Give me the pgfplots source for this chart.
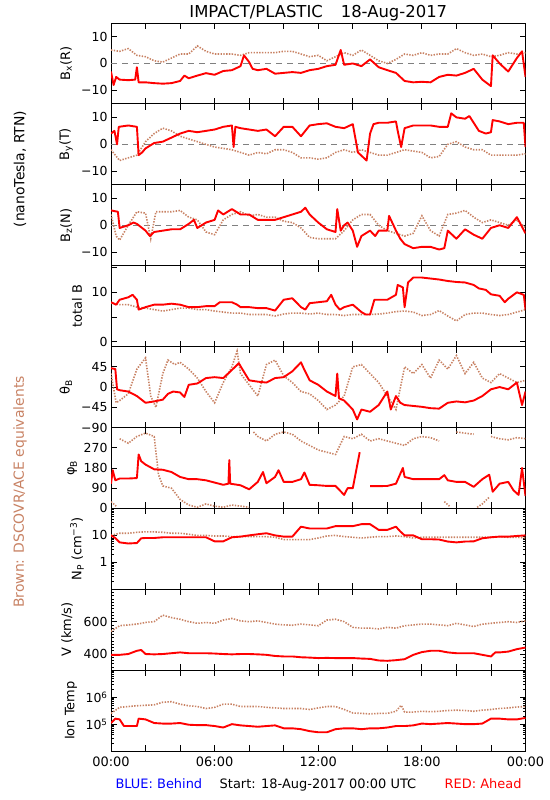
\documentclass[border=0pt]{standalone}
\usepackage{fontspec}
\setmainfont{DejaVu Sans}
\usepackage{pgfplots}
\pgfplotsset{compat=1.18}
\definecolor{brn}{RGB}{200,130,100}
\definecolor{gry}{RGB}{128,128,128}
\definecolor{rd}{RGB}{255,0,0}
\definecolor{bl}{RGB}{0,0,255}
\pgfplotsset{
  panel/.style={
    scale only axis, width=414.5bp, height=80.9bp, anchor=north west,
    xmin=0, xmax=24, xtick={0,2,...,24}, xticklabels={},
    tick align=inside, xtick pos=both, ytick pos=both,
    major tick length=6bp, minor tick length=3bp,
    axis line style={line width=0.9bp},
    tick style={black, line width=0.8bp},
    yticklabel style={font=\fontsize{12.5}{13}\selectfont},
    xticklabel style={font=\fontsize{13}{14}\selectfont, yshift=-2bp},
    ylabel style={font=\fontsize{13}{14}\selectfont, anchor=center},
    unbounded coords=jump,
  },
  lab/.style={ylabel style={at={(axis description cs:#1,0.5)}}},
  rs/.style={rd, line width=1.9bp, line join=round},
  bs/.style={brn, line width=1.6bp, dash pattern=on 1.4bp off 1.4bp},
  zl/.style={gry, line width=0.8bp, dash pattern=on 6bp off 5bp},
}
\begin{document}
\begin{tikzpicture}
\path[use as bounding box] (0bp,0bp) rectangle (550bp,-800bp);

% ---------- Bx ----------
\begin{axis}[panel, lab=-0.1086, at={(111bp,-23bp)}, ymin=-15, ymax=15,
  ytick={-10,0,10}, yticklabels={−10,0,10}, ylabel={B\textsubscript{x}(R)}]
\addplot[zl] coordinates {(0,0)(24,0)};
\addplot[bs] coordinates {(0,5)(0.5,4.5)(1,5.5)(1.5,3)(2,2.5)(2.5,1)(3,0.5)(3.5,2)(4,3.5)(4.5,3.5)(5,6.5)(5.5,4.5)(6,3.5)(6.5,3.5)(7,3.5)(7.5,3)(8,4)(8.5,4)(9,4)(9.5,4)(10,4.5)(10.5,4.5)(11,3.5)(11.5,2.5)(12,3)(12.5,1)(13,2.5)(13.5,4)(14,3)(14.5,5)(15,3)(15.5,1)(16,0)(16.5,1.5)(17,3.5)(17.5,3)(18,4)(18.5,3)(19,3.5)(19.5,3.5)(20,5.5)(20.5,4)(21,3)(21.5,3.5)(22,2.5)(22.5,3)(23,4)(23.5,3.5)(24,4)};
\addplot[rs] coordinates {(0,-3)(0.15,-8)(0.3,-5)(0.5,-6)(1,-6.2)(1.4,-6)(1.5,-1.4)(1.6,-7)(2,-7)(2.5,-7.3)(3,-7.5)(3.5,-7.3)(4,-6.5)(4.25,-4.5)(4.5,-5.5)(5,-4.5)(5.5,-3.6)(6,-4.2)(6.5,-2.8)(7,-2.5)(7.5,-1)(7.7,3)(8,0.5)(8.2,-2)(8.5,-2.5)(9,-2)(9.5,-3.8)(10,-3.5)(10.5,-3.2)(11,-3.5)(11.5,-2.5)(12,-2)(12.5,-1)(13,-0.5)(13.3,5)(13.5,-0.5)(14,0)(14.5,-1)(15,1.5)(15.5,-1.4)(16,-2.5)(16.5,-3.5)(17,-6.5)(17.5,-7)(18,-6.8)(18.5,-7)(19,-5)(19.5,-4.2)(20,-4.5)(20.5,-3.5)(21,-2)(21.5,-6)(22,-8.4)(22.1,3)(22.5,0)(23,-3)(23.5,2)(23.8,4.5)(24,-5)};
\end{axis}

% ---------- By ----------
\begin{axis}[panel, lab=-0.1086, at={(111bp,-103.9bp)}, ymin=-15, ymax=15,
  ytick={-10,0,10}, yticklabels={−10,0,10}, ylabel={B\textsubscript{y}(T)}]
\addplot[zl] coordinates {(0,0)(24,0)};
\addplot[bs] coordinates {(0,-2)(0.5,-6)(1,-5)(1.5,-4)(2,1)(2.5,4)(3,6)(3.5,5)(4,3)(4.5,2)(5,1)(5.5,0)(6,-1)(6.5,-1.5)(7,-2)(7.5,-3)(8,-4)(8.5,-3)(9,-3.5)(9.5,-2)(10,-2)(10.5,-3)(11,-5)(11.5,-5)(12,-5.5)(12.5,-5)(13,-3)(13.5,-2)(14,-3)(14.5,-2)(15,-3)(15.5,-4)(16,-4)(16.5,-3)(17,-2)(17.5,-2.5)(18,-3)(18.5,-5)(19,-4.5)(19.5,0)(20,1)(20.5,-1)(21,-2)(21.5,-2)(22,-4)(22.5,-4)(23,-4)(23.5,-4)(24,-3.5)};
\addplot[rs] coordinates {(0,4)(0.2,5)(0.35,0)(0.45,6.5)(1,7)(1.5,6.5)(1.6,-4)(1.8,-3)(2,-1.5)(2.5,0.5)(3,1)(3.5,2.5)(4,4)(4.5,5)(5,4.5)(5.5,5)(6,5.5)(6.5,6.5)(7,7)(7.1,-1)(7.2,6.5)(7.5,6)(8,5.5)(8.5,5)(9,5.5)(9.5,3)(10,6.5)(10.5,6.5)(11,3)(11.5,7)(12,7.5)(12.5,7.8)(13,6.5)(13.5,6)(14,7.5)(14.3,-3)(14.8,-6)(15,4)(15.2,7.5)(15.5,8)(16,8)(16.5,8.5)(16.6,5)(16.8,-1)(17,6)(17.5,7)(18,7)(18.5,7)(19,6.5)(19.5,6.5)(19.7,11.5)(20,10)(20.5,9.5)(20.75,10.5)(21,8)(21.3,5)(21.7,4)(22,4.5)(22.1,9)(22.5,8.5)(23,7.5)(23.5,8)(23.9,8)(24,-1)};
\end{axis}

% ---------- Bz ----------
\begin{axis}[panel, lab=-0.1086, at={(111bp,-184.8bp)}, ymin=-15, ymax=15,
  ytick={-10,0,10}, yticklabels={−10,0,10}, ylabel={B\textsubscript{z}(N)}]
\addplot[zl] coordinates {(0,0)(24,0)};
\addplot[bs] coordinates {(0,4)(0.3,-4)(0.5,-5.5)(1,0)(1.5,5)(2,4.5)(2.3,-5)(2.6,5)(3,5)(3.5,5)(4,5.5)(4.5,3)(5,2)(5.5,-2.5)(6,-3.5)(6.5,2)(7,4)(7.5,5)(8,3.5)(8.5,4)(9,3)(9.5,3)(10,1.5)(10.5,1)(11,-1)(11.5,-4.5)(12,-5)(12.5,-5)(13,-5)(13.5,-2)(14,2)(14.5,4)(15,4)(15.5,0)(16,-2)(16.5,-3)(17,-4)(17.5,-3)(18,3.5)(18.5,-2)(19,-4)(19.5,4)(20,4.5)(20.5,5.5)(21,3)(21.5,1)(22,2)(22.5,1)(23,0)(23.5,2)(24,-1)};
\addplot[rs] coordinates {(0,5.5)(0.4,5)(0.5,-1)(1,0)(1.3,1)(1.5,0.5)(2,-2)(2.25,-4)(2.5,-2.5)(3,-2)(3.5,-1.5)(4,-1.5)(4.5,0.5)(4.8,2)(5,-1)(5.5,1)(6,2)(6.2,5.5)(6.5,4)(7,6)(7.5,4)(8,4)(8.5,2)(9,2)(9.5,2)(10,3)(10.5,4)(11,5)(11.25,6.5)(11.5,4)(12,1)(12.5,-1.5)(13,-2.5)(13.1,6)(13.3,-2)(13.5,0)(13.7,1)(14,-2)(14.25,-8)(14.5,-4)(15,-2)(15.3,-4)(15.5,-2)(16,-2)(16.1,3.5)(16.5,-2)(16.75,-5)(17,-7)(17.5,-8.5)(18,-8)(18.5,-8)(19,-9)(19.3,-8.5)(19.5,-2)(20,-5)(20.5,-1.5)(21,-3.5)(21.5,-5)(22,-1)(22.5,0)(23,-1)(23.5,3)(24,-3)};
\end{axis}

% ---------- total B ----------
\begin{axis}[panel, lab=-0.082, at={(111bp,-265.7bp)}, ymin=-1, ymax=15.4,
  ytick={0,5,10,15}, yticklabels={0,,10,}, ylabel={total B}]
\addplot[bs] coordinates {(0,7.8)(0.5,7.5)(1,7.5)(1.5,7)(2,6.8)(2.5,6.5)(3,6.2)(3.5,6.5)(4,6.8)(4.5,6.8)(5,6.5)(5.5,6.5)(6,6.2)(6.5,6)(7,5.8)(7.5,5.8)(8,5.5)(8.5,5.5)(9,5.5)(9.5,5.2)(10,5.6)(10.5,5.8)(11,5.8)(11.5,5.6)(12,5.8)(12.5,5.5)(13,5.5)(13.5,5.3)(14,5.5)(14.5,5.5)(15,5.5)(15.5,5.6)(16,5.8)(16.5,6.1)(17,6.2)(17.5,6)(18,5.3)(18.5,5.5)(19,6.3)(19.5,5.2)(20,4.2)(20.5,5.5)(21,5.8)(21.5,5.8)(22,5.5)(22.5,5.3)(23,5.5)(23.5,6)(24,6.5)};
\addplot[rs] coordinates {(0,8)(0.3,7.5)(0.5,8.5)(1,9)(1.25,9.5)(1.5,8.5)(1.6,6.5)(2,7)(2.5,7.5)(3,7.5)(3.5,7.7)(4,7.5)(4.5,7)(5,7)(5.5,7.2)(6,7.2)(6.3,8)(7,8)(7.3,7.5)(7.5,7)(8,7)(8.5,6.8)(9,6.8)(9.5,6.3)(10,8.5)(10.5,8.8)(11,7)(11.25,6.5)(11.5,7.8)(12,8)(12.5,8.2)(12.75,9.5)(13,7.5)(13.25,6.5)(13.5,7)(14,7.5)(14.5,6)(14.75,5.5)(15,5.5)(15.25,8.5)(15.5,8.5)(16,8.5)(16.5,9.5)(16.6,11.5)(16.9,11)(17,7)(17.2,12)(17.5,13)(18,13)(18.5,12.8)(19,12.6)(19.5,12.3)(20,12.1)(20.5,12)(21,11.5)(21.3,10.8)(21.7,10.5)(22,9.6)(22.5,9.3)(22.8,8)(23,8.7)(23.5,10)(23.9,9.5)(24,6.5)};
\end{axis}

% ---------- theta ----------
\begin{axis}[panel, lab=-0.1086, at={(111bp,-346.6bp)}, ymin=-90, ymax=90,
  ytick={-90,-45,0,45,90}, yticklabels={−90,−45,0,45,}, ylabel={θ\textsubscript{B}}]
\addplot[bs] coordinates {(0,30)(0.3,-35)(0.5,-30)(1,-15)(1.5,40)(2,65)(2.3,-20)(2.6,-45)(3,30)(3.3,60)(3.7,50)(4,55)(4.5,40)(5,20)(5.5,-10)(6,-35)(6.5,10)(7,45)(7.3,80)(7.5,30)(8,5)(8.5,-20)(9,50)(9.5,60)(10,25)(10.5,10)(11,-10)(11.5,-15)(12,-30)(12.5,-50)(13,-40)(13.5,-20)(14,45)(14.5,50)(15,30)(15.5,10)(16,-20)(16.5,-50)(17,45)(17.5,30)(18,50)(18.5,20)(19,60)(19.5,40)(20,70)(20.5,30)(21,55)(21.5,20)(22,10)(22.5,30)(23,20)(23.5,10)(24,15)};
\addplot[rs] coordinates {(0,42)(0.25,40)(0.35,-5)(0.5,-7)(1,-10)(1.5,-20)(2,-35)(2.5,-32)(3,-28)(3.3,-15)(3.6,-10)(4,-12)(4.25,-22)(4.5,5)(5,8)(5.5,20)(6,22)(6.5,20)(7,38)(7.4,53)(7.6,40)(8,15)(8.5,12)(9,10)(9.5,20)(10,22)(10.5,35)(11,55)(11.2,38)(11.5,15)(12,5)(12.5,-10)(13,-20)(13.1,30)(13.2,-25)(13.5,-30)(14,-50)(14.25,-72)(14.5,-50)(15,-55)(15.5,-40)(16,-10)(16.2,-50)(16.5,-20)(16.75,-35)(17,-40)(17.5,-42)(18,-44)(18.5,-47)(19,-48)(19.5,-35)(20,-32)(20.5,-34)(21,-30)(21.5,-20)(22,-5)(22.5,0)(23,-5)(23.5,10)(23.8,-40)(24,-10)};
\end{axis}

% ---------- phi ----------
\begin{axis}[panel, lab=-0.094, at={(111bp,-427.5bp)}, ymin=0, ymax=360,
  ytick={0,90,180,270,360}, yticklabels={0,90,180,270,}, ylabel={φ\textsubscript{B}}]
\addplot[bs] coordinates {(0,30)(0.3,10)(0.35,nan)(0.5,310)(1,290)(1.5,320)(2,335)(2.5,320)(2.75,150)(3,100)(3.5,90)(4,40)(4.5,15)(5,5)(5.5,20)(6,10)(6.5,5)(7,15)(7.5,10)(8,5)(8.1,nan)(8.25,340)(8.5,320)(9,300)(9.5,330)(10,340)(10.5,330)(11,300)(11.5,280)(12,260)(12.5,250)(13,240)(13.5,320)(14,310)(14.5,330)(15,300)(15.5,310)(16,300)(16.5,290)(17,280)(17.5,310)(18,320)(18.5,315)(19,300)(19.2,nan)(19.3,30)(19.6,10)(19.8,nan)(20,340)(20.5,335)(21,330)(21.1,nan)(21.2,5)(21.5,20)(21.9,50)(21.95,nan)(22,320)(22.5,310)(23,305)(23.5,315)(24,310)};
\addplot[rs] coordinates {(0,110)(0.1,170)(0.25,125)(0.5,133)(1,133)(1.5,135)(1.6,240)(1.75,210)(2,195)(2.5,174)(3,172)(3.5,162)(4,140)(4.5,130)(5,130)(5.5,125)(6,115)(6.5,105)(6.8,110)(6.85,215)(6.9,110)(7.5,103)(8,85)(8.5,118)(8.8,162)(9,112)(9.5,140)(9.7,170)(10,118)(10.5,118)(11,130)(11.2,160)(11.5,105)(12,103)(12.5,100)(13,100)(13.5,60)(13.7,90)(14,90)(14.25,190)(14.4,250)(14.45,nan)(15,99)(15.5,99)(16,100)(16.5,110)(16.9,180)(17,140)(17.5,130)(18,130)(18.5,130)(19,130)(19.3,148)(19.5,125)(20,118)(20.5,118)(21,96)(21.5,130)(21.9,150)(22.1,74)(22.5,110)(23,118)(23.3,81)(23.6,60)(23.8,180)(24,55)};
\end{axis}

% ---------- Np ----------
\begin{axis}[panel, lab=-0.082, at={(111bp,-508.4bp)}, ymode=log, ymin=0.1, ymax=100,
  ytick={0.1,1,10,100}, yticklabels={,1,10,},
  minor ytick={0.2,0.3,0.4,0.5,0.6,0.7,0.8,0.9,2,3,4,5,6,7,8,9,20,30,40,50,60,70,80,90},
  ylabel={N\textsubscript{P} (cm\textsuperscript{−3})}]
\addplot[bs] coordinates {(0,10)(0.5,12)(1,12)(1.5,13)(2,13.5)(2.5,13.5)(3,13)(3.5,12)(4,12)(4.5,11)(5,10)(5.5,10)(6,9.5)(6.5,9.5)(7,9)(7.5,9)(8,9)(8.5,9)(9,9)(9.5,8.5)(10,7)(10.5,7)(11,7)(11.5,7)(12,8)(12.5,9.5)(13,10)(13.5,9)(14,8.5)(14.5,8)(15,8.5)(15.5,9)(16,9)(16.5,9.5)(17,9)(17.5,8)(18,8.5)(18.5,8.5)(19,8.5)(19.5,8.5)(20,8.5)(20.5,8.5)(21,8.5)(21.5,8.5)(22,8.5)(22.5,9)(23,8.5)(23.5,8.5)(24,8)};
\addplot[rs] coordinates {(0,10)(0.25,8)(0.5,5.5)(1,5)(1.5,5.2)(1.75,7.8)(2,8)(2.5,8)(3,8.5)(3.5,8.5)(4,8.5)(4.5,8.5)(5,8.5)(5.5,8.5)(6,6)(6.5,6)(7,8.5)(7.5,9)(8,10)(8.5,11)(9,12)(9.5,10)(10,9)(10.5,9)(11,21)(11.5,18)(12,18)(12.5,18)(13,22)(13.5,22)(14,22)(14.5,26)(15,26)(15.5,16)(16,16)(16.5,21)(16.75,14)(17,10)(17.5,10)(18,7.2)(18.5,7.2)(19,7)(19.5,5.9)(20,5.5)(20.5,5.9)(21,6)(21.5,7.8)(22,8.5)(22.5,9)(23,9)(23.5,9.5)(24,10)};
\end{axis}

% ---------- V ----------
\begin{axis}[panel, lab=-0.106, at={(111bp,-589.3bp)}, ymin=300, ymax=800,
  ytick={400,600,800}, yticklabels={400,600,}, minor ytick={300,320,...,800},
  ylabel={V (km/s)}]
\addplot[bs] coordinates {(0,540)(0.5,575)(1,580)(1.5,585)(2,595)(2.5,600)(3,640)(3.5,625)(4,615)(4.5,600)(5,590)(5.5,595)(6,590)(6.5,610)(7,620)(7.5,605)(8,600)(8.5,605)(9,595)(9.5,585)(10,580)(10.5,578)(11,585)(11.5,580)(12,575)(12.5,610)(13,615)(13.5,600)(14,565)(14.5,560)(15,560)(15.5,555)(16,565)(16.5,560)(17,575)(17.5,580)(18,585)(18.5,585)(19,580)(19.5,575)(20,590)(20.5,580)(21,570)(21.5,585)(22,590)(22.5,595)(23,600)(23.5,595)(24,605)};
\addplot[rs] coordinates {(0,395)(0.5,395)(1,400)(1.5,420)(1.75,425)(2,400)(2.5,398)(3,400)(3.5,405)(4,410)(4.5,405)(5,405)(5.5,405)(6,403)(6.5,400)(7,398)(7.5,400)(8,400)(8.5,398)(9,395)(9.5,388)(10,385)(10.5,385)(11,380)(11.5,378)(12,375)(12.5,376)(13,375)(13.5,375)(14,375)(14.5,372)(15,370)(15.5,360)(16,358)(16.5,362)(17,368)(17.5,395)(18,412)(18.5,420)(19,420)(19.5,410)(20,405)(20.5,405)(21,405)(21.5,395)(22,385)(22.25,410)(22.5,410)(23,415)(23.5,430)(24,440)};
\end{axis}

% ---------- Ion Temp ----------
\begin{axis}[panel, lab=-0.0965, at={(111bp,-670.2bp)}, ymode=log, ymin=1e4, ymax=1e7,
  ytick={1e4,1e5,1e6,1e7}, yticklabels={,10\textsuperscript{5},10\textsuperscript{6},},
  ylabel={Ion Temp},
  xticklabels={00:00,,,06:00,,,12:00,,,18:00,,,00:00}]
\addplot[bs] coordinates {(0,2.5e5)(0.5,4.2e5)(1,4.5e5)(1.5,4.8e5)(2,5e5)(2.5,5.2e5)(3,6.5e5)(3.5,6.8e5)(4,5.5e5)(4.5,4.8e5)(5,4.5e5)(5.5,3.8e5)(6,4.2e5)(6.5,5.5e5)(7,5.5e5)(7.5,4.5e5)(8,4.5e5)(8.5,4.5e5)(9,4.2e5)(9.5,4e5)(10,3.8e5)(10.5,3.8e5)(11,3.8e5)(11.5,3.5e5)(12,4e5)(12.5,4.5e5)(13,4.5e5)(13.5,3.5e5)(14,2.6e5)(14.5,2.5e5)(15,2.4e5)(15.5,2.5e5)(16,2.5e5)(16.5,3e5)(16.8,5e5)(17,2.8e5)(17.5,2.8e5)(18,3e5)(18.5,2.9e5)(19,3e5)(19.5,3.2e5)(20,3.3e5)(20.5,3.2e5)(21,3e5)(21.5,3.3e5)(22,3.5e5)(22.5,3.8e5)(23,4e5)(23.5,4.3e5)(24,4.5e5)};
\addplot[rs] coordinates {(0,1.1e5)(0.25,1.6e5)(0.5,1.5e5)(0.75,8.5e4)(1,8.5e4)(1.5,8.5e4)(1.6,1.6e5)(2,1.5e5)(2.5,1.1e5)(3,1.05e5)(3.5,1.05e5)(4,1.1e5)(4.5,9.5e4)(5,9.2e4)(5.5,9.2e4)(6,8.5e4)(6.5,7.5e4)(7,1e5)(7.5,9e4)(8,8.5e4)(8.5,8e4)(9,8.5e4)(9.5,9e4)(10,7e4)(10.5,7e4)(11,6.5e4)(11.5,5.5e4)(12,5e4)(12.5,5e4)(13,6.5e4)(13.5,7e4)(14,7e4)(14.5,6.5e4)(15,7e4)(15.5,7e4)(16,7.5e4)(16.5,8.5e4)(17,8.5e4)(17.5,9e4)(18,1.05e5)(18.5,1e5)(19,1.05e5)(19.5,1.1e5)(20,1.05e5)(20.5,1e5)(21,1e5)(21.5,1.05e5)(22,1.6e5)(22.5,1.6e5)(23,1.5e5)(23.5,1.5e5)(24,1.7e5)};
\end{axis}

% ---------- texts ----------
\node[anchor=base, font=\fontsize{16.5}{18}\selectfont] at (318.3bp,-17.3bp) {IMPACT/PLASTIC\hspace{18bp}18-Aug-2017};
\node[rotate=90, font=\fontsize{14}{15}\selectfont] at (20bp,-169bp) {(nanoTesla, RTN)};
\node[rotate=90, brn, font=\fontsize{14}{15}\selectfont] at (20bp,-492bp) {Brown: DSCOVR/ACE equivalents};
\node[anchor=base west, bl, font=\fontsize{13}{14}\selectfont] at (112bp,-788bp) {BLUE: Behind};
\node[anchor=base, font=\fontsize{13}{14}\selectfont] at (318bp,-788bp) {Start: 18-Aug-2017 00:00 UTC};
\node[anchor=base east, rd, font=\fontsize{13}{14}\selectfont] at (525bp,-788bp) {RED: Ahead};
\end{tikzpicture}
\end{document}
